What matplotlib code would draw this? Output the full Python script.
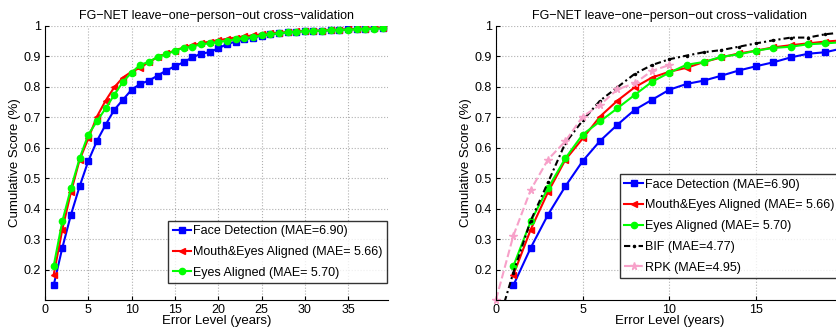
import numpy as np
import matplotlib
matplotlib.use("Agg")
import matplotlib.pyplot as plt

plt.rcParams['font.family'] = ['Liberation Sans', 'DejaVu Sans']
plt.rcParams['axes.unicode_minus'] = True

# error levels (years)
err = list(range(1, 40))

face_det = [0.148, 0.271, 0.380, 0.473, 0.556, 0.622, 0.675, 0.724, 0.757, 0.790,
            0.809, 0.820, 0.836, 0.853, 0.867, 0.880, 0.896, 0.908, 0.913, 0.926,
            0.939, 0.948, 0.955, 0.961, 0.967, 0.972, 0.975, 0.978, 0.980, 0.983,
            0.983, 0.984, 0.985, 0.986, 0.988, 0.989, 0.990, 0.991, 0.992]
mouth_eyes = [0.182, 0.331, 0.454, 0.560, 0.630, 0.702, 0.754, 0.798, 0.830, 0.849,
              0.862, 0.881, 0.896, 0.909, 0.918, 0.929, 0.936, 0.942, 0.948, 0.952,
              0.957, 0.961, 0.965, 0.968, 0.972, 0.975, 0.977, 0.979, 0.981, 0.982,
              0.983, 0.984, 0.986, 0.987, 0.988, 0.989, 0.990, 0.992, 0.994]
eyes = [0.211, 0.358, 0.467, 0.565, 0.643, 0.686, 0.729, 0.773, 0.816, 0.846,
        0.872, 0.881, 0.898, 0.906, 0.918, 0.927, 0.931, 0.939, 0.942, 0.946,
        0.951, 0.955, 0.959, 0.963, 0.968, 0.972, 0.975, 0.978, 0.980, 0.982,
        0.983, 0.984, 0.985, 0.986, 0.987, 0.988, 0.989, 0.990, 0.991]

# comparison methods (right panel)
bif_x = list(range(0, 21))
bif = [0.0, 0.19, 0.36, 0.486, 0.615, 0.689, 0.754, 0.798, 0.842, 0.871, 0.890,
       0.902, 0.913, 0.920, 0.931, 0.942, 0.952, 0.961, 0.961, 0.972, 0.978]
rpk_x = list(range(0, 11))
rpk = [0.101, 0.311, 0.461, 0.561, 0.621, 0.702, 0.740, 0.791, 0.811, 0.852, 0.871]

labels = ['Face Detection (MAE=6.90)', 'Mouth&Eyes Aligned (MAE= 5.66)',
          'Eyes Aligned (MAE= 5.70)', 'BIF (MAE=4.77)', 'RPK (MAE=4.95)']
title = 'FG\u2212NET leave\u2212one\u2212person\u2212out cross\u2212validation'
pink = '#f7a1c9'

fig = plt.figure(figsize=(8.36, 3.29), dpi=100)
ax1 = fig.add_axes([0.0538, 0.0881, 0.4103, 0.8338])
ax2 = fig.add_axes([0.5933, 0.0881, 0.4148, 0.8338])


def draw_ours(ax):
    ax.plot(err, face_det, '-s', color='b', lw=1.5, ms=4, label=labels[0])
    ax.plot(err, mouth_eyes, '-<', color='r', lw=1.5, ms=4.5, label=labels[1])
    ax.plot(err, eyes, '-o', color='#00ff00', lw=1.5, ms=4.5, label=labels[2])


def style(ax, xmax, xticks):
    ax.set_xlim(0, xmax)
    ax.set_ylim(0.1, 1.0)
    ax.set_xticks(xticks)
    ax.set_yticks(np.arange(0.2, 1.01, 0.1))
    ax.set_yticklabels(['0.2', '0.3', '0.4', '0.5', '0.6', '0.7', '0.8', '0.9', '1'])
    ax.grid(True, linestyle=':', color='#b0b0b0', lw=0.8)
    ax.spines['top'].set_visible(False)
    ax.spines['right'].set_visible(False)
    ax.tick_params(direction='in', labelsize=9, length=3, pad=3)
    ax.set_title(title, fontsize=9, pad=5)
    ax.set_xlabel('Error Level (years)', fontsize=9.5, labelpad=-1)
    ax.set_ylabel('Cumulative Score (%)', fontsize=9.5, labelpad=2)


leg_kw = dict(fontsize=9, fancybox=False, edgecolor='k', handlelength=1.5,
              handletextpad=0.15, borderpad=0.35, labelspacing=0.7,
              borderaxespad=0.0)

draw_ours(ax1)
style(ax1, 39.6, range(0, 36, 5))
leg1 = ax1.legend(loc='lower right', bbox_to_anchor=(0.997, 0.062), **leg_kw)
leg1.get_frame().set_linewidth(1.0)

draw_ours(ax2)
ax2.plot(bif_x, bif, marker='.', color='k', lw=1.5, ms=3, label=labels[3],
         linestyle=(0, (3, 1.5, 1, 1.5)))
ax2.plot(rpk_x, rpk, '--', marker='*', color=pink, lw=1.5, ms=5.5, label=labels[4],
         clip_on=False)
style(ax2, 20, range(0, 20, 5))
leg2 = ax2.legend(loc='lower left', bbox_to_anchor=(0.3576, 0.080), **leg_kw)
leg2.get_frame().set_linewidth(1.0)

fig.savefig('out.png', dpi=100)
